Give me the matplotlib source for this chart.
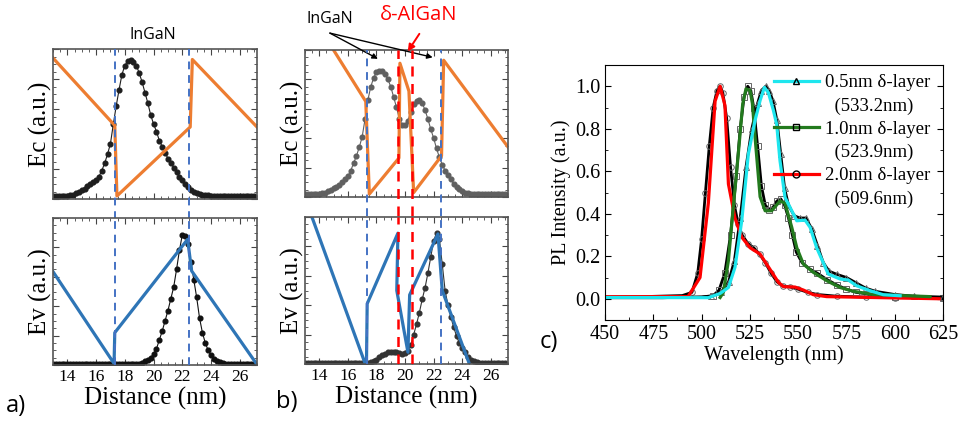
import numpy as np
import matplotlib
matplotlib.use("Agg")
import matplotlib.pyplot as plt
from matplotlib.lines import Line2D
from matplotlib.ticker import MultipleLocator

plt.rcParams['font.family'] = ['Liberation Serif', 'DejaVu Serif']

# ---- band diagrams (a, b) ----
x_dots = np.round(np.arange(13.0, 27.01, 0.2), 1)   # sampling grid of the wavefunction dots

psi_a_c = ([0.02] * 6 + [0.025, 0.03, 0.04, 0.05,
           0.06, 0.07, 0.085, 0.10, 0.115,
           0.13, 0.15, 0.19, 0.24, 0.30,
           0.37, 0.50, 0.62, 0.73, 0.83,
           0.89, 0.92, 0.93, 0.915, 0.89,
           0.84, 0.78, 0.71, 0.64, 0.56,
           0.50, 0.45, 0.39, 0.35, 0.31,
           0.27, 0.24, 0.21, 0.18, 0.15,
           0.125, 0.10, 0.08, 0.06, 0.05,
           0.04, 0.035, 0.03, 0.027, 0.025] + [0.02] * 16)

psi_a_v = ([0.01] * 31 + [0.015, 0.025, 0.035, 0.05,
           0.075, 0.11, 0.17, 0.23, 0.30,
           0.37, 0.45, 0.53, 0.65, 0.78,
           0.885, 0.88, 0.82, 0.70, 0.58,
           0.46, 0.32, 0.22, 0.15, 0.10,
           0.065, 0.04, 0.025, 0.018, 0.013] + [0.01] * 11)

psi_b_c = ([0.02] * 5 + [0.022, 0.025, 0.03, 0.04, 0.05,
           0.06, 0.07, 0.085, 0.10, 0.12,
           0.14, 0.18, 0.23, 0.28, 0.34,
           0.41, 0.53, 0.66, 0.75, 0.81,
           0.85, 0.86, 0.855, 0.835, 0.80,
           0.75, 0.68, 0.61, 0.53, 0.49,
           0.49, 0.52, 0.58, 0.63, 0.655,
           0.66, 0.64, 0.59, 0.53, 0.46,
           0.40, 0.33, 0.27, 0.22, 0.18,
           0.15, 0.12, 0.09, 0.07, 0.055,
           0.04, 0.03, 0.025, 0.022] + [0.02] * 12)

psi_b_v = ([0.01] * 23 + [0.012, 0.02,
           0.03, 0.045, 0.06, 0.07, 0.08,
           0.085, 0.085, 0.08, 0.072, 0.07,
           0.075, 0.09, 0.13, 0.20, 0.27,
           0.35, 0.44, 0.52, 0.62, 0.73,
           0.84, 0.89, 0.85, 0.68, 0.50,
           0.40, 0.32, 0.25, 0.19, 0.14,
           0.11, 0.08, 0.05, 0.03, 0.02,
           0.015] + [0.01] * 10)

a_ec_x = [13.0, 17.3, 17.45, 22.55, 22.7, 27.2]
a_ec_y = [0.94, 0.49, 0.02, 0.48, 0.93, 0.48]
a_ev_x = [13.0, 17.25, 17.3, 22.37, 22.65, 27.15]
a_ev_y = [0.635, 0.01, 0.22, 0.855, 0.64, 0.01]

b_ec_x = [13.0, 17.25, 17.5, 19.57, 19.64, 20.27, 20.6, 22.55, 22.7, 27.2]
b_ec_y = [1.31, 0.65, 0.02, 0.265, 0.91, 0.72, 0.03, 0.28, 0.93, 0.34]
b_ev_x = [13.0, 17.2, 17.3, 17.35, 19.5, 19.42, 20.2, 20.32, 22.3, 22.6, 24.5]
b_ev_y = [1.13, 0.005, 0.005, 0.41, 0.89, 0.50, 0.08, 0.47, 0.885, 0.50, 0.0]

qw_edges = [17.35, 22.5]
algan_edges = [19.5, 20.45]

# ---- PL spectra (c) ----
red_data_wl = [450, 470, 490, 495, 498, 500, 502, 504, 506, 508, 509.6, 511, 513, 515, 517, 519,
               521, 524, 527, 530, 533, 536, 539, 542, 546, 550, 555, 560, 570, 585, 600, 625]
red_data_pl = [0.01, 0.01, 0.015, 0.03, 0.12, 0.28, 0.50, 0.72, 0.90, 0.98, 1.0, 0.97, 0.85, 0.62, 0.44, 0.35,
               0.30, 0.26, 0.24, 0.21, 0.17, 0.12, 0.08, 0.06, 0.055, 0.045, 0.03, 0.02, 0.012, 0.008, 0.005, 0.005]
green_data_wl = [450, 480, 500, 506, 509, 512, 515, 518, 520, 522, 523.9, 525.5, 527, 529, 531, 533, 535,
                 537, 539, 541, 543, 545, 547, 549, 552, 556, 560, 565, 570, 575, 580, 590, 600, 625]
green_data_pl = [0.005, 0.005, 0.008, 0.015, 0.04, 0.12, 0.30, 0.58, 0.80, 0.95, 1.0, 0.98, 0.90, 0.72, 0.53, 0.44, 0.42,
                 0.43, 0.46, 0.47, 0.44, 0.38, 0.30, 0.22, 0.17, 0.14, 0.12, 0.09, 0.065, 0.045, 0.03, 0.018, 0.01, 0.005]
cyan_data_wl = [450, 480, 500, 505, 510, 514, 517, 520, 523, 526, 529, 531, 533.2, 535, 537, 539, 541,
                543, 545, 548, 551, 554, 557, 560, 563, 566, 570, 575, 580, 585, 590, 600, 610, 625]
cyan_data_pl = [0.005, 0.005, 0.008, 0.012, 0.03, 0.08, 0.18, 0.38, 0.62, 0.80, 0.92, 0.98, 1.0, 0.98, 0.93, 0.84, 0.68,
                0.52, 0.44, 0.39, 0.38, 0.38, 0.33, 0.25, 0.17, 0.13, 0.115, 0.10, 0.075, 0.05, 0.035, 0.02, 0.012, 0.008]

red_fit_wl = [450, 493, 499.2, 503.5, 507, 509.6, 512.1, 513.9, 517.3, 520.8, 525.1, 530.3, 534.6,
              539.8, 542.4, 548.4, 552.7, 557.9, 564.8, 623]
red_fit_pl = [0.01, 0.01, 0.10, 0.45, 0.93, 1.0, 0.91, 0.54, 0.38, 0.29, 0.24, 0.21, 0.15,
              0.077, 0.057, 0.055, 0.041, 0.019, 0.01, 0.0]
green_fit_wl = [509.6, 511.3, 513.9, 516.4, 519.0, 521.3, 523.0, 525.1, 526.3, 527.7, 530.3, 532.9, 536.3,
                540.6, 543.2, 546.7, 549.3, 552.7, 557.9, 564.8, 571.7, 578.6, 588.9, 618.3]
green_fit_pl = [0.006, 0.03, 0.18, 0.43, 0.68, 0.917, 0.988, 0.98, 0.92, 0.76, 0.48, 0.414, 0.414,
                0.46, 0.45, 0.336, 0.24, 0.163, 0.124, 0.085, 0.053, 0.035, 0.02, 0.01]
cyan_fit_wl = [450, 503.5, 509.6, 513.9, 517.3, 520.8, 524.2, 527.7, 530.3, 532.5, 534.6, 537.2, 538.9,
               540.6, 543.2, 545.8, 549.3, 553.6, 556.2, 559.6, 565.6, 571.7, 576.0, 580.3, 587.2, 594.1, 602.8]
cyan_fit_pl = [0.006, 0.005, 0.025, 0.053, 0.148, 0.367, 0.68, 0.84, 0.933, 0.995, 0.97, 0.886, 0.82,
               0.65, 0.477, 0.43, 0.367, 0.37, 0.336, 0.24, 0.116, 0.093, 0.088, 0.061, 0.038, 0.019, 0.014]

leg_labels = ['0.5nm δ-layer', '(533.2nm)', '1.0nm δ-layer', '(523.9nm)', '2.0nm δ-layer', '(509.6nm)']

ORANGE = '#ED7D31'
BLUE = '#2E75B6'
DASH_BLUE = '#4472C4'
RED = '#FF0000'
W, H = 958, 421

fig = plt.figure(figsize=(W / 100, H / 100), dpi=100)


def px_ax(l, t, r, b):
    return fig.add_axes([l / W, 1 - b / H, (r - l) / W, (b - t) / H])


def style_band(ax, bottom_labels):
    ax.set_xlim(13, 27.2)
    ax.set_ylim(0, 1)
    ax.xaxis.set_major_locator(MultipleLocator(2))
    ax.xaxis.set_minor_locator(MultipleLocator(0.5))
    ax.yaxis.set_major_locator(MultipleLocator(0.2))
    ax.yaxis.set_minor_locator(MultipleLocator(0.05))
    ax.tick_params(which='both', direction='in', top=True, right=True, labelleft=False,
                   labelbottom=bottom_labels, labelsize=12.5, color='#444', pad=3)
    ax.tick_params(which='major', length=4)
    ax.tick_params(which='minor', length=2)
    for s in ax.spines.values():
        s.set_color('#555')
        s.set_linewidth(1.2)


ax_ac = px_ax(53, 49, 257, 199)
ax_av = px_ax(53, 218, 257, 365)
ax_bc = px_ax(305, 50, 508, 197)
ax_bv = px_ax(305, 217, 508, 364)

dot_kw = dict(marker='o', ms=3.4, lw=0.8)
ax_ac.plot(x_dots, psi_a_c, color='#1e1e1e', **dot_kw)
ax_ac.plot(a_ec_x, a_ec_y, color=ORANGE, lw=2.3)
ax_av.plot(x_dots, psi_a_v, color='#111', **dot_kw)
ax_av.plot(a_ev_x, a_ev_y, color=BLUE, lw=2.3)
ax_bc.plot(x_dots, psi_b_c, color='#606060', **dot_kw)
ax_bc.plot(b_ec_x, b_ec_y, color=ORANGE, lw=2.3)
ax_bv.plot(x_dots, psi_b_v, color='#333', **dot_kw)
ax_bv.plot(b_ev_x, b_ev_y, color=BLUE, lw=2.3)

for ax in (ax_ac, ax_bc):
    style_band(ax, False)
    ax.set_ylabel('Ec (a.u.)', fontsize=18, labelpad=1)
for ax in (ax_av, ax_bv):
    style_band(ax, True)
    ax.set_ylabel('Ev (a.u.)', fontsize=18, labelpad=1)
    ax.set_xlabel('Distance (nm)', fontsize=18, labelpad=1)

# dashed interface lines crossing both panels
for top, bot, reds in ((ax_ac, ax_av, []), (ax_bc, ax_bv, algan_edges)):
    for xv, c in [(v, DASH_BLUE) for v in qw_edges] + [(v, RED) for v in reds]:
        lw = 1.4 if c == DASH_BLUE else 1.8
        top.axvline(xv, ymin=-0.13, ymax=1, color=c, ls=(0, (4, 3)), lw=lw, clip_on=False, zorder=5)
        bot.axvline(xv, ymin=0, ymax=1, color=c, ls=(0, (4, 3)), lw=lw, zorder=5)

# annotations
sans = ['Open Sans', 'DejaVu Sans']
fig.text(153 / W, 1 - 35 / H, 'InGaN', family=sans, fontsize=11.5, ha='center', va='center')
ax_bc.text(14.74, 1.21, 'InGaN', family=sans, fontsize=11.5, ha='center', va='center', clip_on=False)
ax_bc.text(20.93, 1.24, 'δ-AlGaN', family=sans, fontsize=14.5, color=RED, ha='center', va='center',
           clip_on=False)
arrow_k = dict(arrowstyle='-|>', color='black', lw=1, mutation_scale=8, shrinkA=0, shrinkB=0)
for head in [(18.1, 0.94), (21.93, 0.95)]:
    ax_bc.annotate('', xy=head, xytext=(14.74, 1.115), annotation_clip=False, arrowprops=arrow_k)
ax_bc.annotate('', xy=(20.19, 0.99), xytext=(21.0, 1.11), annotation_clip=False,
               arrowprops=dict(arrowstyle='-|>', color=RED, lw=1.4, mutation_scale=10,
                               shrinkA=0, shrinkB=0))

fig.text(16 / W, 1 - 406 / H, 'a)', family=sans, fontsize=17, ha='center', va='center')
fig.text(287 / W, 1 - 402 / H, 'b)', family=sans, fontsize=17, ha='center', va='center')
fig.text(549 / W, 1 - 342 / H, 'c)', family=sans, fontsize=17, ha='center', va='center')

# ---- panel c ----
ax_c = px_ax(605, 65, 943, 320)
mk = dict(mfc='none', mec='#666', ms=4, mew=0.7)
ax_c.plot(red_data_wl, red_data_pl, color='black', lw=2, marker='o', markevery=slice(3, None), **mk)
ax_c.plot(green_data_wl, green_data_pl, color='black', lw=2, marker='s', markevery=slice(3, None), **mk)
ax_c.plot(cyan_data_wl, cyan_data_pl, color='black', lw=2, marker='^', markevery=slice(3, None), **mk)
red_l, = ax_c.plot(red_fit_wl, red_fit_pl, color=RED, lw=2.3)
green_l, = ax_c.plot(green_fit_wl, green_fit_pl, color='#237A1E', lw=2.3)
cyan_l, = ax_c.plot(cyan_fit_wl, cyan_fit_pl, color='#1EE6EE', lw=2.3)

ax_c.set_xlim(450, 625)
ax_c.set_ylim(-0.1, 1.1)
ax_c.xaxis.set_major_locator(MultipleLocator(25))
ax_c.xaxis.set_minor_locator(MultipleLocator(12.5))
ax_c.yaxis.set_major_locator(MultipleLocator(0.2))
ax_c.yaxis.set_minor_locator(MultipleLocator(0.1))
ax_c.tick_params(which='both', direction='in', right=True, labelsize=14.5)
ax_c.tick_params(which='major', length=4)
ax_c.tick_params(which='minor', length=2)
ax_c.set_xlabel('Wavelength (nm)', fontsize=14.5, labelpad=1)
ax_c.set_ylabel('PL Intensity (a.u.)', fontsize=14.5, labelpad=3)

blank = Line2D([], [], color='none')
handles = [(cyan_l, Line2D([], [], ls='none', marker='^', mfc='none', mec='black', ms=5)), blank,
           (green_l, Line2D([], [], ls='none', marker='s', mfc='none', mec='black', ms=5)), blank,
           (red_l, Line2D([], [], ls='none', marker='o', mfc='none', mec='black', ms=5)), blank]
labels = [leg_labels[0], '  ' + leg_labels[1], leg_labels[2], '  ' + leg_labels[3],
          leg_labels[4], '  ' + leg_labels[5]]
ax_c.legend(handles, labels, loc='upper right', bbox_to_anchor=(1.0, 1.015), frameon=False,
            fontsize=13.5, handlelength=2.4, handletextpad=0.3, labelspacing=0.32,
            borderaxespad=0.3)

fig.savefig('out.png', dpi=100)
